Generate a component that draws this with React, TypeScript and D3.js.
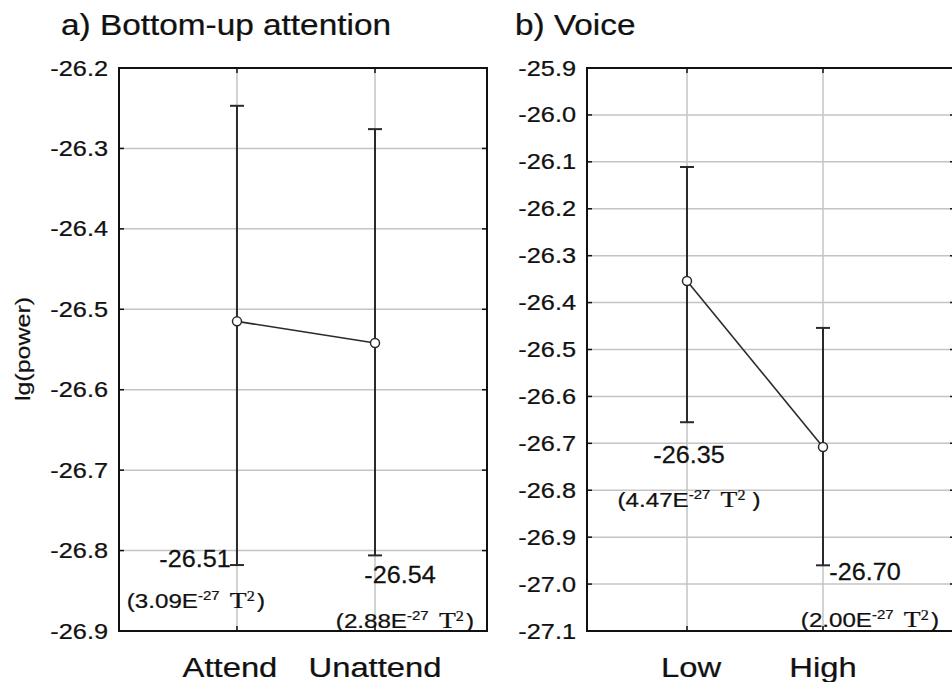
import * as d3 from 'd3'
import { useRef, useEffect } from 'react'

// panel a) Bottom-up attention
const categoriesA = ['Attend', 'Unattend']
const meansA = [-26.515, -26.542]
const upperA = [-26.247, -26.276]
const lowerA = [-26.818, -26.806]
const meanLabelsA = ['-26.51', '-26.54']
const powerLabelsA = ['3.09', '2.88']
const ticksA = [-26.2, -26.3, -26.4, -26.5, -26.6, -26.7, -26.8, -26.9]

// panel b) Voice
const categoriesB = ['Low', 'High']
const meansB = [-26.354, -26.708]
const upperB = [-26.111, -26.454]
const lowerB = [-26.655, -26.96]
const meanLabelsB = ['-26.35', '-26.70']
const powerLabelsB = ['4.47', '2.00']
const ticksB = [-25.9, -26.0, -26.1, -26.2, -26.3, -26.4, -26.5, -26.6, -26.7, -26.8, -26.9, -27.0, -27.1]

const FONT = '"Liberation Sans", Arial, sans-serif'
const SERIF = '"Liberation Serif", "Times New Roman", serif'
const SX = 1.15

export default function App() {
  const svgRef = useRef(null)

  useEffect(() => {
    const svg = d3.select(svgRef.current)
    svg.selectAll('*').remove()

    const top = 68, bottom = 631

    const addText = (g, x, y, str, size, anchor = 'middle', sx = SX) =>
      g.append('text')
        .attr('transform', `translate(${x},${y}) scale(${sx},1)`)
        .attr('text-anchor', anchor)
        .attr('font-family', FONT)
        .attr('font-size', size)
        .attr('fill', '#111')
        .attr('stroke', '#111').attr('stroke-width', 0.25)
        .text(str)

    const addPower = (g, x, y, mant, spaceBeforeParen) => {
      const t = g.append('text')
        .attr('transform', `translate(${x},${y}) scale(${SX},1)`)
        .attr('text-anchor', 'middle')
        .attr('font-family', FONT)
        .attr('font-size', 21)
        .attr('fill', '#111')
        .attr('stroke', '#111').attr('stroke-width', 0.25)
      t.append('tspan').text(`(${mant}E`)
      t.append('tspan').attr('font-size', 13).attr('dy', -8).text('-27')
      t.append('tspan').attr('dy', 8).attr('dx', 9)
        .attr('font-family', SERIF).attr('font-size', 24).text('T')
      t.append('tspan').attr('dy', -7)
        .attr('font-family', SERIF).attr('font-size', 14).text('2')
      t.append('tspan').attr('dy', 7).attr('dx', spaceBeforeParen ? 6 : 2).text(')')
    }

    const drawPanel = (cfg) => {
      const { left, right, cats, means, upper, lower, ticks, padding, align,
        title, meanLabels, powerLabels, labelOffsets, powerSpace, catShift } = cfg
      const g = svg.append('g')

      const x = d3.scalePoint().domain(cats).range([left, right]).padding(padding).align(align)
      const y = d3.scaleLinear().domain([ticks[0], ticks[ticks.length - 1]]).range([top, bottom])

      // grid
      g.selectAll('.hgrid').data(ticks.slice(1, -1)).enter().append('line')
        .attr('x1', left).attr('x2', right)
        .attr('y1', d => y(d)).attr('y2', d => y(d))
        .attr('stroke', '#c4c4c4').attr('stroke-width', 1.5)
      g.selectAll('.vgrid').data(cats).enter().append('line')
        .attr('x1', d => x(d)).attr('x2', d => x(d))
        .attr('y1', top).attr('y2', bottom)
        .attr('stroke', '#c4c4c4').attr('stroke-width', 1.5)

      // ticks
      const tk = 5
      g.selectAll('.ltick').data(ticks).enter().append('line')
        .attr('x1', left).attr('x2', left + tk)
        .attr('y1', d => y(d)).attr('y2', d => y(d))
        .attr('stroke', '#111').attr('stroke-width', 1.5)
      g.selectAll('.rtick').data(ticks).enter().append('line')
        .attr('x1', right).attr('x2', right - tk)
        .attr('y1', d => y(d)).attr('y2', d => y(d))
        .attr('stroke', '#111').attr('stroke-width', 1.5)
      g.selectAll('.ttick').data(cats).enter().append('line')
        .attr('x1', d => x(d)).attr('x2', d => x(d))
        .attr('y1', top).attr('y2', top + tk)
        .attr('stroke', '#111').attr('stroke-width', 1.5)
      g.selectAll('.btick').data(cats).enter().append('line')
        .attr('x1', d => x(d)).attr('x2', d => x(d))
        .attr('y1', bottom).attr('y2', bottom - tk)
        .attr('stroke', '#111').attr('stroke-width', 1.5)

      // frame
      g.append('rect')
        .attr('x', left).attr('y', top)
        .attr('width', right - left).attr('height', bottom - top)
        .attr('fill', 'none').attr('stroke', '#111').attr('stroke-width', 2)

      // error bars
      const cap = 7
      cats.forEach((c, i) => {
        const cx = x(c)
        g.append('line').attr('x1', cx).attr('x2', cx)
          .attr('y1', y(upper[i])).attr('y2', y(lower[i]))
          .attr('stroke', '#2a2a2a').attr('stroke-width', 2)
        ;[upper[i], lower[i]].forEach(v => {
          g.append('line').attr('x1', cx - cap).attr('x2', cx + cap)
            .attr('y1', y(v)).attr('y2', y(v))
            .attr('stroke', '#2a2a2a').attr('stroke-width', 2)
        })
      })

      // mean line + points
      const line = d3.line().x((d, i) => x(cats[i])).y(d => y(d))
      g.append('path').datum(means).attr('d', line)
        .attr('fill', 'none').attr('stroke', '#2a2a2a').attr('stroke-width', 1.6)
      g.selectAll('.pt').data(means).enter().append('circle')
        .attr('cx', (d, i) => x(cats[i])).attr('cy', d => y(d)).attr('r', 4.5)
        .attr('fill', 'white').attr('stroke', '#2a2a2a').attr('stroke-width', 1.5)

      // y tick labels
      ticks.forEach(t => {
        addText(g, left - 11, y(t) + 7.5, t.toFixed(1), 22, 'end')
      })

      // x labels
      cats.forEach((c, i) => addText(g, x(c) + catShift[i], 677, c, 28.5))

      // title
      addText(g, cfg.titleX, 35, title, 29, 'start')

      // value annotations
      cats.forEach((c, i) => {
        const o = labelOffsets[i]
        addText(g, x(c) + o[0], o[1], meanLabels[i], 24, 'middle', 1.05)
        addPower(g, x(c) + o[2], o[3], powerLabels[i], powerSpace[i])
      })
    }

    drawPanel({
      left: 119, right: 487, cats: categoriesA, means: meansA, upper: upperA, lower: lowerA,
      ticks: ticksA, padding: 0.833, align: 0.513, title: 'a) Bottom-up attention', titleX: 61,
      meanLabels: meanLabelsA, powerLabels: powerLabelsA, catShift: [-7, 0],
      labelOffsets: [[-42, 567, -41, 608], [25, 583, 30, 628]], powerSpace: [false, false]
    })
    drawPanel({
      left: 587, right: 955, cats: categoriesB, means: meansB, upper: upperB, lower: lowerB,
      ticks: ticksB, padding: 0.853, align: 0.431, title: 'b) Voice', titleX: 515,
      meanLabels: meanLabelsB, powerLabels: powerLabelsB, catShift: [4, 0],
      labelOffsets: [[2, 463, 2, 507], [42, 580, 47, 627]], powerSpace: [true, false]
    })

    // y axis title
    svg.append('text')
      .attr('transform', 'translate(30,349) rotate(-90) scale(1.25,1)')
      .attr('text-anchor', 'middle')
      .attr('font-family', FONT)
      .attr('font-size', 20)
      .attr('fill', '#111')
      .attr('stroke', '#111').attr('stroke-width', 0.2)
      .text('lg(power)')
  }, [])

  return (
    <svg ref={svgRef} width={952} height={682}
      style={{ position: 'absolute', left: 0, top: 0, background: 'white', display: 'block' }} />
  )
}
